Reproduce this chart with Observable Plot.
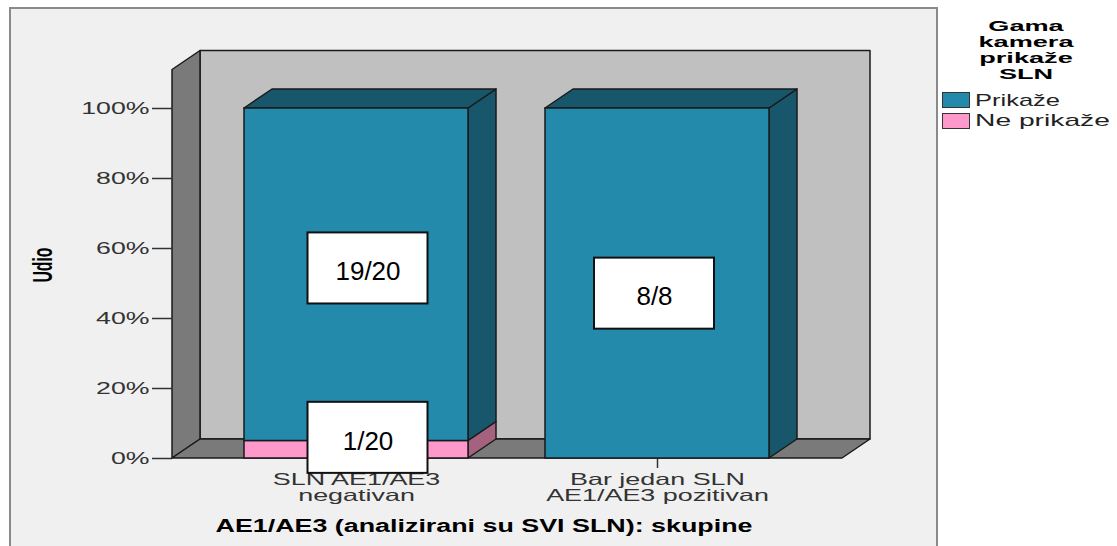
<!DOCTYPE html>
<html><head><meta charset="utf-8">
<script src="https://cdn.jsdelivr.net/npm/d3@7"></script>
<script src="https://cdn.jsdelivr.net/npm/@observablehq/plot@0.6"></script>
<style>
html,body{margin:0;padding:0;background:#fff;overflow:hidden;}
#wrap{position:relative;width:1117px;height:546px;font-family:Arial,"Liberation Sans",sans-serif;}
#panel{position:absolute;left:9px;top:7px;width:929px;height:600px;background:#f0f0f0;border:2px solid #8a8a8a;box-sizing:border-box;}
#chart{position:absolute;left:0;top:0;}
#legend{position:absolute;left:0;top:0;width:1117px;height:546px;}
#legend div{position:absolute;white-space:pre;}
</style></head><body>
<div id="wrap"><div id="panel"></div><div id="chart"></div><div id="legend"></div></div>
<script>
// ---------- data ----------
const categories = ["SLN AE1/AE3 negativan", "Bar jedan SLN AE1/AE3 pozitivan"];
const categoryLine1 = ["SLN AE1/AE3", "Bar jedan SLN"];
const categoryLine2 = ["negativan", "AE1/AE3 pozitivan"];
const series = ["Ne prikaže", "Prikaže"];          // stacking order, bottom to top
const legendOrder = ["Prikaže", "Ne prikaže"];
const prikaze = [95, 100];                          // % (19/20, 8/8)
const nePrikaze = [5, 0];                           // % (1/20, 0/8)
const labelCategory = [0, 0, 1];
const labelText = ["19/20", "1/20", "8/8"];
const labelAt = [54.3, 5.9, 47.1];                  // % where each count box sits
const yTicks = [0, 20, 40, 60, 80, 100];
const wallTop = 111;                                // % height of the 3D walls
const yLabel = "Udio";
const xLabel = "AE1/AE3 (analizirani su SVI SLN): skupine";
const legendTitle = ["Gama", "kamera", "prikaže", "SLN"];

// ---------- styles ----------
const frontColor = {"Prikaže": "#238aab", "Ne prikaže": "#ff99cc"};
const sideColor = {"Prikaže": "#17566b", "Ne prikaže": "#a4627f"};
const DX = 28, DY = -19;
const labelShift = [11.5, -3];

const rows = [];
categories.forEach((c, i) => {
  let base = 0;
  for (const s of series) {
    const v = s === "Prikaže" ? prikaze[i] : nePrikaze[i];
    if (v > 0) rows.push({cat: c, series: s, y1: base, y2: base + v});
    base += v;
  }
});
const tops = new Set(categories.map(c => rows.filter(r => r.cat === c).at(-1)));
const labels = labelText.map((t, i) => ({cat: categories[labelCategory[i]], ci: labelCategory[i], label: t, at: labelAt[i]}));

function poly(g, pts, fill) {
  g.append("polygon").attr("points", pts.map(p => p.join(",")).join(" "))
    .attr("fill", fill).attr("stroke", "#1a1a1a").attr("stroke-width", 1.5).attr("stroke-linejoin", "round");
}
function bandwidthOf(scales) {
  const s = scales.x;
  if (s && typeof s.bandwidth === "function") return s.bandwidth();
  return scales.scales && scales.scales.x ? scales.scales.x.bandwidth : 0;
}
const room = (index, scales, values, dim) => {
  const {y} = scales;
  const g = d3.create("svg:g");
  const xa = dim.marginLeft, xb = dim.width - dim.marginRight, y0 = y(0), yt = y(wallTop);
  poly(g, [[xa + DX, yt + DY], [xb + DX, yt + DY], [xb + DX, y0 + DY], [xa + DX, y0 + DY]], "#c0c0c0");
  poly(g, [[xa, y0], [xa, yt], [xa + DX, yt + DY], [xa + DX, y0 + DY]], "#7a7a7a");
  poly(g, [[xa, y0], [xb, y0], [xb + DX, y0 + DY], [xa + DX, y0 + DY]], "#7a7a7a");
  return g.node();
};
const barDepth = (index, scales) => {
  const {x, y} = scales;
  const bw = bandwidthOf(scales);
  const g = d3.create("svg:g");
  for (const r of rows) {
    const xl = x(r.cat), xr = xl + bw;
    poly(g, [[xr, y(r.y2)], [xr + DX, y(r.y2) + DY], [xr + DX, y(r.y1) + DY], [xr, y(r.y1)]], sideColor[r.series]);
    if (tops.has(r)) poly(g, [[xl, y(r.y2)], [xr, y(r.y2)], [xr + DX, y(r.y2) + DY], [xl + DX, y(r.y2) + DY]], sideColor[r.series]);
  }
  return g.node();
};

const boxHalf = 10.15;
const labelMarks = [0, 1].flatMap(ci => {
  const data = labels.filter(d => d.ci === ci);
  return [
    Plot.barY(data, {x: "cat", y1: d => d.at - boxHalf, y2: d => d.at + boxHalf, insetLeft: 52, insetRight: 52,
      dx: labelShift[ci], fill: "white", stroke: "#111", strokeWidth: 2}),
    Plot.text(data, {x: "cat", y: "at", text: "label", dx: labelShift[ci], dy: 3.5, fontSize: 26, fill: "#000"})
  ];
});

const chart = Plot.plot({
  width: 1117, height: 546,
  marginLeft: 172, marginRight: 275, marginTop: 108, marginBottom: 88,
  style: {background: "transparent", fontFamily: "Arial, 'Liberation Sans', sans-serif", fontSize: "17px", overflow: "visible"},
  x: {type: "band", domain: categories, paddingInner: 0.255, paddingOuter: 0.237},
  y: {domain: [0, 100]},
  color: {domain: legendOrder, range: legendOrder.map(s => frontColor[s])},
  marks: [
    room,
    Plot.axisY({ticks: yTicks, tickFormat: d => d + "%", tickSize: 20, tickPadding: 3, label: null,
      fontSize: 17, color: "#333", strokeWidth: 1.5}),
    Plot.axisX({tickSize: 10, tickFormat: () => "", label: null, color: "#333", strokeWidth: 1.5}),
    barDepth,
    Plot.barY(rows, {x: "cat", y1: "y1", y2: "y2", fill: "series", stroke: "#1a1a1a", strokeWidth: 1.5}),
    Plot.text(categoryLine1, {x: (d, i) => categories[i], text: d => d, frameAnchor: "bottom", lineAnchor: "bottom", dy: 26.5, fontSize: 16.5, fill: "#333"}),
    Plot.text(categoryLine2, {x: (d, i) => categories[i], text: d => d, frameAnchor: "bottom", lineAnchor: "bottom", dy: 42.5, fontSize: 16.5, fill: "#333"}),
    ...labelMarks,
    Plot.text([xLabel], {text: d => d, frameAnchor: "bottom", lineAnchor: "bottom", dx: -23.5, dy: 73, fontSize: 18, fontWeight: "bold", fill: "#000"}),
    Plot.text([yLabel], {text: d => d, frameAnchor: "left", rotate: -90, dx: -129.5, dy: -18.5, fontSize: 27, fontWeight: "bold", textAnchor: "middle", lineAnchor: "middle", fill: "#000"})
  ]
});
document.getElementById("chart").append(chart);

// stretch SPSS-style text horizontally
const tickStrings = yTicks.map(d => d + "%");
chart.querySelectorAll("text").forEach(el => {
  const c = el.textContent;
  let target = null;
  const L = el.getComputedTextLength();
  if (tickStrings.includes(c)) target = L * 1.57;
  else if (categoryLine1.includes(c) || categoryLine2.includes(c)) target = L * 1.63;
  else if (c === xLabel) target = 537;
  else if (c === yLabel) target = 35;
  if (target) { el.setAttribute("textLength", target); el.setAttribute("lengthAdjust", "spacingAndGlyphs"); }
});

// legend
const lg = document.getElementById("legend");
const baseTop = (baseline, fs, lh) => baseline - (lh - 1.117 * fs) / 2 - 0.905 * fs;
legendTitle.forEach((t, i) => {
  const d = document.createElement("div");
  d.textContent = t;
  const fs = 15.5, lh = 16;
  d.style.cssText += `left:925.5px;width:200px;text-align:center;top:${baseTop(31.5 + 16 * i, fs, lh)}px;font-weight:bold;font-size:${fs}px;line-height:${lh}px;transform:scaleX(1.75);color:#000;`;
  lg.append(d);
});
legendOrder.forEach((s, i) => {
  const sw = document.createElement("div");
  sw.style.cssText += `left:942px;top:${92.3 + 20.7 * i}px;width:28px;height:16px;box-sizing:border-box;border:1.5px solid #333;background:${frontColor[s]};`;
  lg.append(sw);
  const tx = document.createElement("div");
  const fs = 17, lh = 20;
  tx.textContent = s;
  tx.style.cssText += `left:975px;top:${baseTop(107.3 + 19.5 * i, fs, lh)}px;font-size:${fs}px;line-height:${lh}px;transform:scaleX(${i === 0 ? 1.5 : 1.66});transform-origin:0 0;color:#222;`;
  lg.append(tx);
});
</script>
</body></html>
